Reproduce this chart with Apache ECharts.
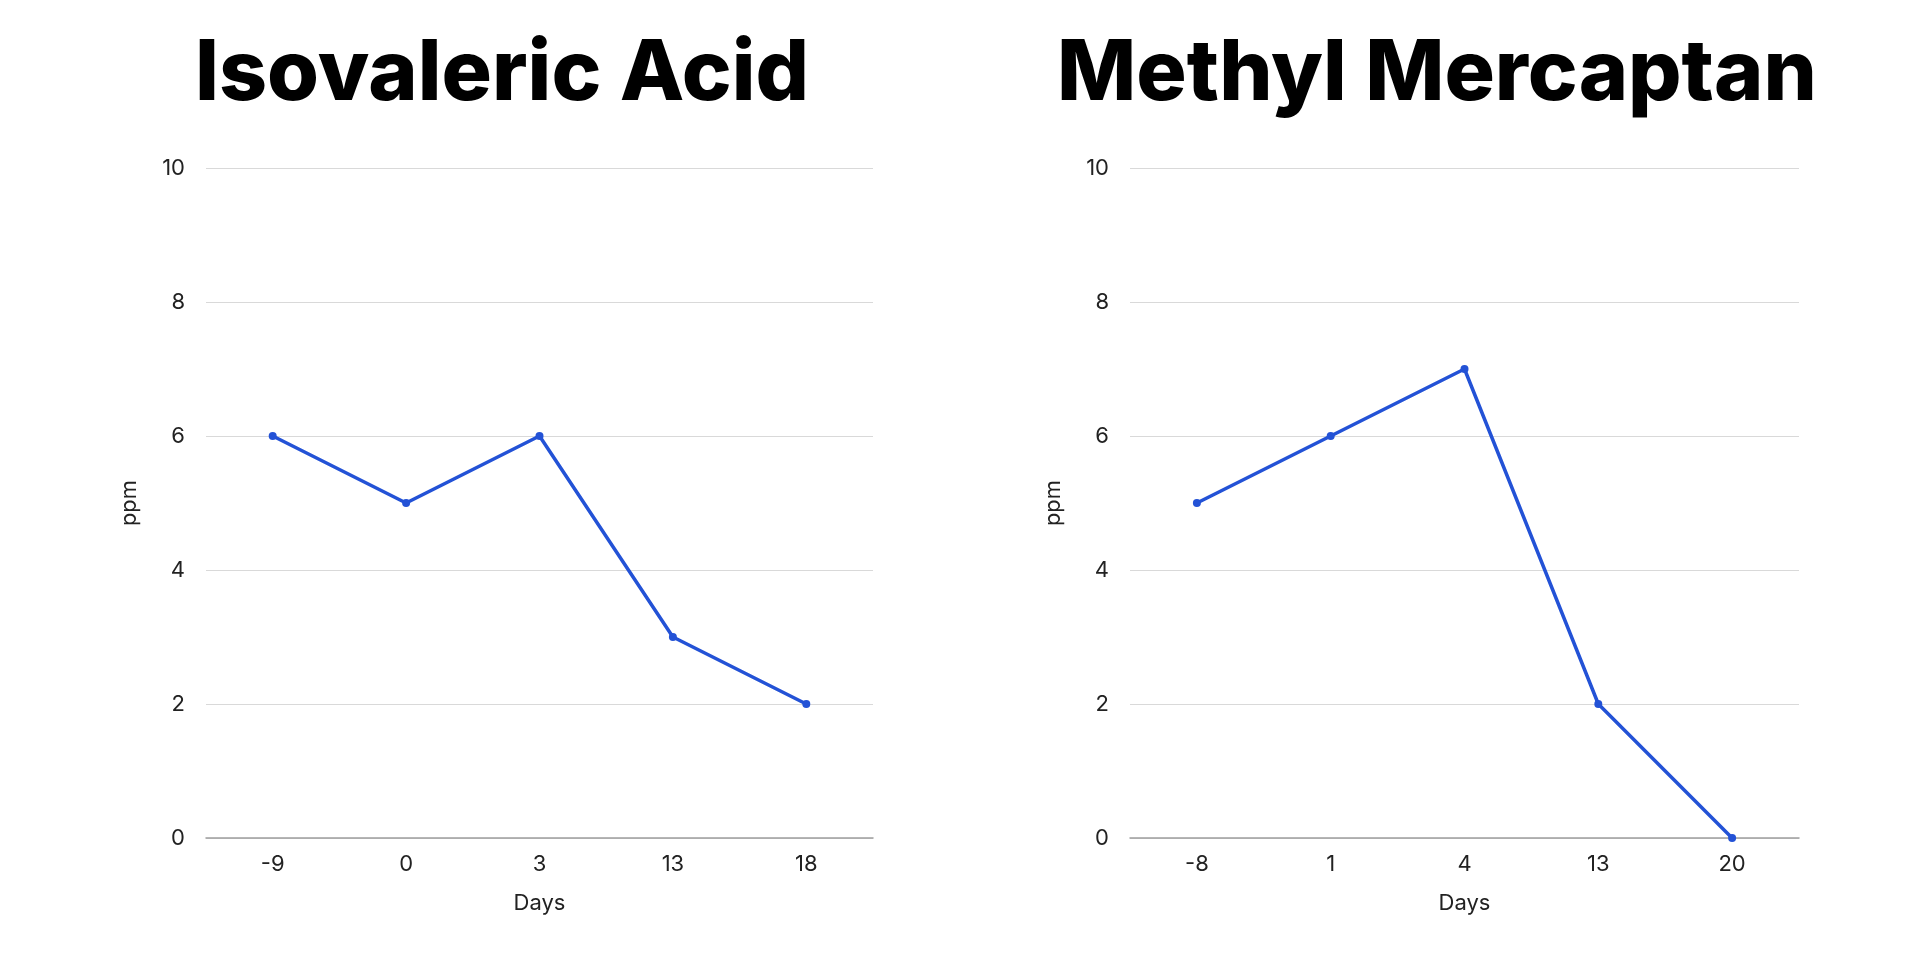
<!DOCTYPE html>
<html><head><meta charset="utf-8">
<script src="https://cdn.jsdelivr.net/npm/echarts@6/dist/echarts.min.js"></script>
<style>html,body{margin:0;padding:0;background:#fff}#c{width:1920px;height:960px}</style>
</head><body><div id="c"></div>
<script>
const titles = ["Isovaleric Acid", "Methyl Mercaptan"];
const daysIso = ["-9", "0", "3", "13", "18"];
const ppmIso = [6, 5, 6, 3, 2];
const daysMeth = ["-8", "1", "4", "13", "20"];
const ppmMeth = [5, 6, 7, 2, 0];
const yTicks = [0, 10, 2]; // min, max, interval
const xName = "Days", yName = "ppm";

const FONT = "Inter";
const LINE = "#2352d6";
const chart = echarts.init(document.getElementById('c'));
const grids = [
  {left: 206, top: 168, width: 667, height: 670},
  {left: 1130, top: 168, width: 669, height: 670}
];
function xAx(i, cats){return {type:'category', gridIndex:i, data:cats, boundaryGap:true,
  name:xName, nameLocation:'middle', nameGap:54,
  nameTextStyle:{fontFamily:FONT, fontSize:22, color:'#222'},
  axisLine:{lineStyle:{color:'#9e9e9e', width:1.5}}, axisTick:{show:false},
  axisLabel:{fontFamily:FONT, fontSize:22, color:'#222', margin:15}};}
function yAx(i){return {type:'value', gridIndex:i, min:yTicks[0], max:yTicks[1], interval:yTicks[2],
  name:yName, nameLocation:'middle', nameGap:66,
  nameTextStyle:{fontFamily:FONT, fontSize:22, color:'#222'},
  axisLine:{show:false}, axisTick:{show:false},
  splitLine:{lineStyle:{color:'#d9d9d9', width:1.2}},
  axisLabel:{fontFamily:FONT, fontSize:22, color:'#222', margin:21}};}
function ser(i, vals){return {type:'line', xAxisIndex:i, yAxisIndex:i, data:vals,
  symbol:'circle', symbolSize:8, lineStyle:{color:LINE, width:3.5}, itemStyle:{color:LINE}};}
chart.setOption({
  animation:false,
  backgroundColor:'#fff',
  title:[
    {text:titles[0], left:497, top:28, textAlign:'center', textStyle:{fontFamily:FONT, fontWeight:800, fontSize:84, color:'#000'}},
    {text:titles[1], left:1432, top:28, textAlign:'center', textStyle:{fontFamily:FONT, fontWeight:800, fontSize:84, color:'#000'}}
  ],
  grid:grids,
  xAxis:[xAx(0, daysIso), xAx(1, daysMeth)],
  yAxis:[yAx(0), yAx(1)],
  series:[ser(0, ppmIso), ser(1, ppmMeth)]
});
</script></body></html>
